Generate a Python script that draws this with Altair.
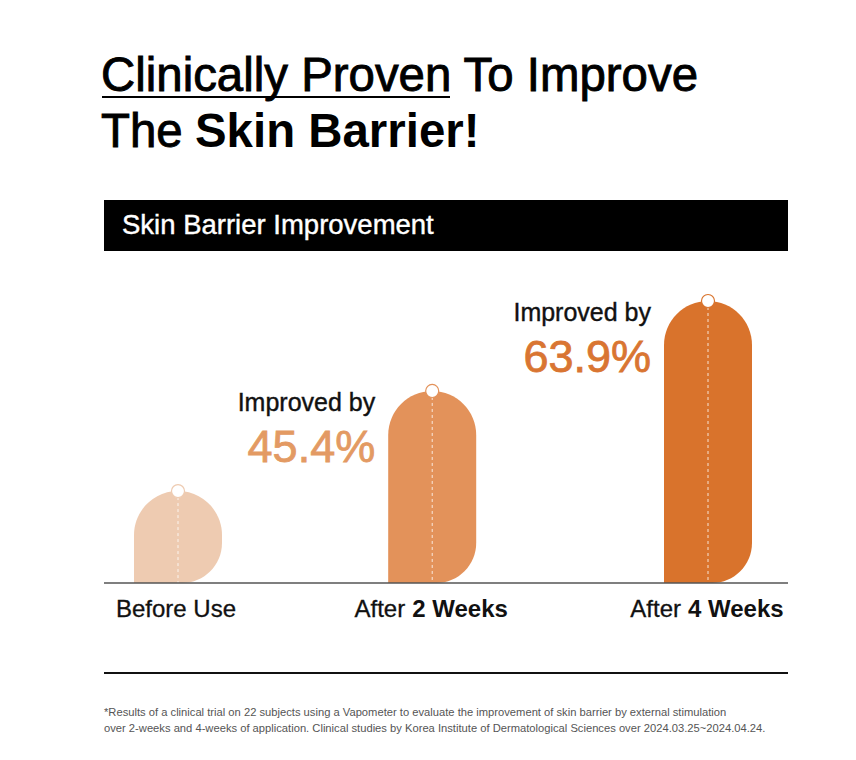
import altair as alt
import pandas as pd

# ---- data ----
weeks = [0, 2, 4]
bar_height = [32.6, 68.1, 100.0]          # relative bar heights
improvement = [None, 45.4, 63.9]           # % improvement vs before use
label_regular = ["Before Use", "After", "After"]
label_bold = ["", "2 Weeks", "4 Weeks"]
bar_colors = ["#EECBB1", "#E3925A", "#D9732C"]
pct_colors = ["#EECBB1", "#E39A63", "#D97532"]

df = pd.DataFrame({
    "week": weeks,
    "height": bar_height,
    "improvement": improvement,
    "reg": label_regular,
    "bold": label_bold,
    "color": bar_colors,
    "pcolor": pct_colors,
})
df["pct"] = df["improvement"].map(lambda v: "" if pd.isna(v) else f"{v:.1f}%")

FONT = "Liberation Sans"
W, H = 856, 760
BASE_Y = 583
TOP_Y = 301

xs = alt.Scale(type="pow", exponent=1.06, domain=[0, 4], range=[178, 708], nice=False, zero=False, padding=0)
ys = alt.Scale(domain=[0, 100], range=[BASE_Y, TOP_Y], nice=False, zero=False)
X = alt.X("week:Q", scale=xs, axis=None)
Y = alt.Y("height:Q", scale=ys, axis=None)

base = alt.Chart(df)

bars = base.mark_bar(
    size=88,
    cornerRadiusTopLeft=44,
    cornerRadiusTopRight=44,
    cornerRadiusBottomRight=40,
).encode(x=X, y=Y, y2=alt.datum(0), color=alt.Color("color:N", scale=None))

dash = base.mark_rule(color="white", strokeDash=[3, 3], strokeWidth=1, opacity=0.8).encode(
    x=X, y=Y, y2=alt.datum(0)
)

dots = base.mark_point(shape="circle", filled=True, fill="white", strokeWidth=1.2, size=170, opacity=1).encode(
    x=X, y=Y, stroke=alt.Color("color:N", scale=None)
)

annot = base.transform_filter("datum.week > 0")
improved = annot.mark_text(align="right", baseline="middle", dx=-57, dy=12, fontSize=25,
                           font=FONT, color="#111", stroke="#111", strokeWidth=0.4).encode(
    x=X, y=Y, text=alt.value("Improved by"))
pct = annot.mark_text(align="right", baseline="alphabetic", dx=-57, dy=71, fontSize=45,
                      font=FONT, strokeWidth=0.8).encode(
    x=X, y=Y, text="pct:N", color=alt.Color("pcolor:N", scale=None),
    stroke=alt.Color("pcolor:N", scale=None))

lab_y = alt.value(617)
lab_before = base.transform_filter("datum.week == 0").mark_text(
    align="center", baseline="alphabetic", dx=-2, fontSize=24, font=FONT, color="#111",
    stroke="#111", strokeWidth=0.3
).encode(x=X, y=lab_y, text="reg:N")
lab_after = base.transform_filter("datum.week > 0").mark_text(
    align="right", baseline="alphabetic", dx=-27, fontSize=24, font=FONT, color="#111",
    stroke="#111", strokeWidth=0.3
).encode(x=X, y=lab_y, text="reg:N")
lab_bold = base.transform_filter("datum.week > 0").mark_text(
    align="left", baseline="alphabetic", dx=-20, fontSize=24, font=FONT, fontWeight="bold", color="#111"
).encode(x=X, y=lab_y, text="bold:N")

one = alt.Chart(pd.DataFrame({"a": [0]}))

baseline = one.mark_rule(color="#555", strokeWidth=1.5).encode(
    x=alt.value(104), x2=alt.value(788), y=alt.value(BASE_Y))
bottom_rule = one.mark_rule(color="#111", strokeWidth=2).encode(
    x=alt.value(104), x2=alt.value(788), y=alt.value(673))

header_box = one.mark_rect(color="black").encode(
    x=alt.value(104), x2=alt.value(788), y=alt.value(200), y2=alt.value(251))
header_txt = one.mark_text(align="left", baseline="middle", fontSize=27.5, font=FONT, color="white",
                           stroke="white", strokeWidth=0.4).encode(
    x=alt.value(122), y=alt.value(226), text=alt.value("Skin Barrier Improvement"))

TS = 47.4
t1 = one.mark_text(align="left", baseline="alphabetic", fontSize=TS, font=FONT, color="#000",
                   stroke="#000", strokeWidth=0.9).encode(
    x=alt.value(101), y=alt.value(91), text=alt.value("Clinically Proven To Improve"))
underline = one.mark_rule(color="#000", strokeWidth=2).encode(
    x=alt.value(102), x2=alt.value(450), y=alt.value(97))
t2a = one.mark_text(align="left", baseline="alphabetic", fontSize=TS, font=FONT, color="#000",
                    stroke="#000", strokeWidth=0.9).encode(
    x=alt.value(101), y=alt.value(147), text=alt.value("The"))
t2b = one.mark_text(align="left", baseline="alphabetic", fontSize=TS, font=FONT, fontWeight="bold", color="#000").encode(
    x=alt.value(195), y=alt.value(147), text=alt.value("Skin Barrier!"))

foot1 = one.mark_text(align="left", baseline="alphabetic", fontSize=11.2, font=FONT, color="#555").encode(
    x=alt.value(104), y=alt.value(716),
    text=alt.value("*Results of a clinical trial on 22 subjects using a Vapometer to evaluate the improvement of skin barrier by external stimulation"))
foot2 = one.mark_text(align="left", baseline="alphabetic", fontSize=11.2, font=FONT, color="#555").encode(
    x=alt.value(104), y=alt.value(732),
    text=alt.value("over 2-weeks and 4-weeks of application. Clinical studies by Korea Institute of Dermatological Sciences over 2024.03.25~2024.04.24."))

chart = alt.layer(
    header_box, header_txt, t1, underline, t2a, t2b,
    bars, dash, dots, improved, pct,
    baseline, lab_before, lab_after, lab_bold,
    bottom_rule, foot1, foot2,
).properties(
    width=W, height=H, padding=0, autosize=alt.AutoSizeParams(type="none"), background="white"
).configure_view(stroke=None)

chart.save("out.html", embed_options={"renderer": "svg", "actions": False})
